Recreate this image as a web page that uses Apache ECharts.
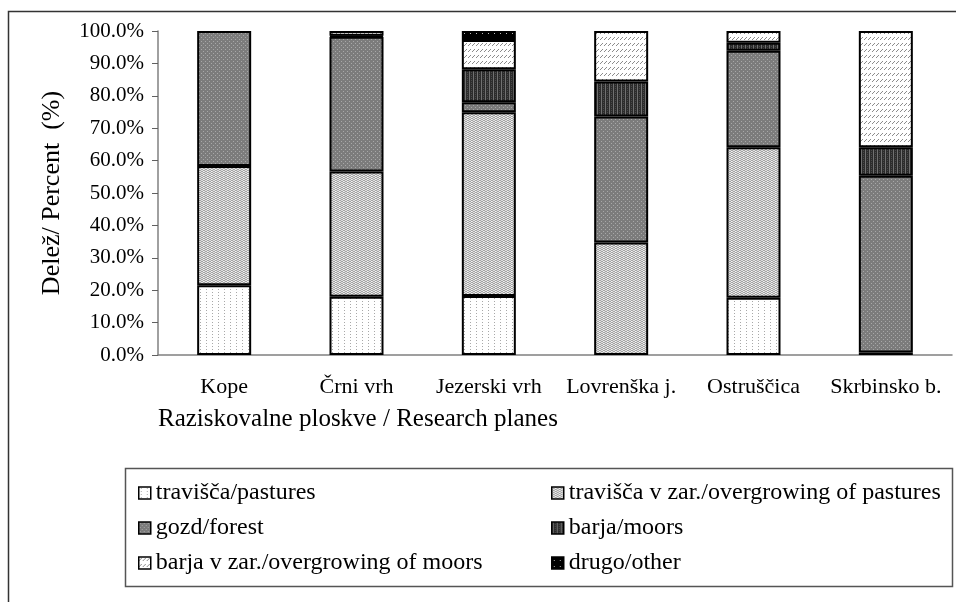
<!doctype html>
<html>
<head>
<meta charset="utf-8">
<title>Raziskovalne ploskve</title>
<script src="https://cdn.jsdelivr.net/npm/echarts@6/dist/echarts.min.js"></script>
<style>
  html, body { margin: 0; padding: 0; background: #fff; }
</style>
</head>
<body>
<div id="chart" style="width: 956px; height: 602px;"></div>
<script>
// data (percent of each plane)
var categories = ['Kope', 'Črni vrh', 'Jezerski vrh', 'Lovrenška j.', 'Ostruščica', 'Skrbinsko b.'];
var seriesNames = ['travišča/pastures', 'travišča v zar./overgrowing of pastures', 'gozd/forest',
                   'barja/moors', 'barja v zar./overgrowing of moors', 'drugo/other'];
var pastures     = [21.5, 18.0, 18.2, 0,    17.7, 0.8];
var overPastures = [36.8, 38.6, 56.7, 34.7, 46.4, 0];
var forest       = [41.7, 41.6, 3.1,  38.9, 29.8, 54.5];
var moors        = [0,    0.3,  10.2, 10.8, 2.5,  8.8];
var overMoors    = [0,    1.5,  9.0,  15.6, 3.6,  35.9];
var other        = [0,    0,    2.8,  0,    0,    0];
var yTicks = [0, 10, 20, 30, 40, 50, 60, 70, 80, 90, 100];

var FONT = '"Liberation Serif", "Times New Roman", serif';

// small hatch patterns like the old excel fills
function pattern(w, h, bg, draw) {
    var c = document.createElement('canvas');
    c.width = w; c.height = h;
    var ctx = c.getContext('2d');
    ctx.fillStyle = bg;
    ctx.fillRect(0, 0, w, h);
    draw(ctx);
    return { image: c, repeat: 'repeat' };
}
function px(ctx, col, pts) {
    ctx.fillStyle = col;
    for (var i = 0; i < pts.length; i++) ctx.fillRect(pts[i][0], pts[i][1], 1, 1);
}

var fills = [
    pattern(6, 3, '#ffffff', function (ctx) { px(ctx, '#a8a8a8', [[2, 1]]); }),
    pattern(4, 2, '#e0e0e0', function (ctx) { px(ctx, '#a4a4a4', [[0, 0], [2, 1], [1, 1], [3, 0]]); px(ctx, '#f4f4f4', [[3, 1]]); }),
    pattern(4, 4, '#7c7c7c', function (ctx) { px(ctx, '#a8a8a8', [[1, 1], [3, 3]]); }),
    pattern(4, 2, '#2c2c2c', function (ctx) { px(ctx, '#707070', [[1, 0], [1, 1]]); px(ctx, '#4a4a4a', [[3, 0]]); }),
    pattern(8, 6, '#ffffff', function (ctx) { px(ctx, '#8c8c8c', [[0, 3], [1, 2], [2, 1], [4, 3], [5, 2], [6, 1]]); }),
    pattern(6, 6, '#000000', function (ctx) { px(ctx, '#bbbbbb', [[2, 3]]); })
];

var values = [pastures, overPastures, forest, moors, overMoors, other];
var series = [];
for (var i = 0; i < values.length; i++) {
    series.push({
        name: seriesNames[i],
        type: 'bar',
        stack: 'total',
        barWidth: 54,
        // empty segments are left out so they draw no extra outline
        data: values[i].map(function (v) { return v === 0 ? '-' : v; }),
        itemStyle: { color: fills[i], borderColor: '#000', borderWidth: 2 }
    });
}

var legendCommon = {
    orient: 'vertical',
    top: 476,
    itemWidth: 12,
    itemHeight: 12,
    itemGap: 11,
    icon: 'rect',
    selectedMode: false,
    itemStyle: { borderColor: '#000', borderWidth: 1.5 },
    textStyle: { fontFamily: FONT, fontSize: 24, lineHeight: 24, color: '#000' }
};

var myChart = echarts.init(document.getElementById('chart'));
var option = {
    animation: false,
    backgroundColor: '#fff',
    textStyle: { fontFamily: FONT },
    grid: { left: 158, right: 4, top: 31, bottom: 247 },
    legend: [
        Object.assign({ left: 133, data: [seriesNames[0], seriesNames[2], seriesNames[4]] }, legendCommon),
        Object.assign({ left: 546, data: [seriesNames[1], seriesNames[3], seriesNames[5]] }, legendCommon)
    ],
    xAxis: {
        type: 'category',
        data: categories,
        axisLine: { lineStyle: { color: '#808080', width: 1.5 } },
        axisTick: { length: 6, lineStyle: { color: '#606060' } },
        axisLabel: { color: '#000', fontSize: 22, fontFamily: FONT, margin: 21, interval: 0 }
    },
    yAxis: {
        type: 'value',
        min: yTicks[0],
        max: yTicks[yTicks.length - 1],
        interval: yTicks[1] - yTicks[0],
        name: 'Delež/ Percent  (%)',
        nameLocation: 'middle',
        nameGap: 93,
        nameTextStyle: { color: '#000', fontSize: 26, fontFamily: FONT },
        axisLine: { show: true, lineStyle: { color: '#808080', width: 1.5 } },
        axisTick: { show: true, length: 6, lineStyle: { color: '#606060' } },
        splitLine: { show: false },
        axisLabel: {
            color: '#000', fontSize: 21, fontFamily: FONT, margin: 14,
            formatter: function (v) { return v.toFixed(1) + '%'; }
        }
    },
    graphic: [
        { type: 'text', left: 158, top: 407,
          style: { text: 'Raziskovalne ploskve / Research planes', font: '25px ' + FONT, fill: '#000' } },
        { type: 'rect', shape: { x: 125.5, y: 468.5, width: 827, height: 118 },
          style: { fill: 'none', stroke: '#555', lineWidth: 1.5 } },
        { type: 'polyline', shape: { points: [[8.5, 602], [8.5, 11.5], [956, 11.5]] },
          style: { fill: 'none', stroke: '#333', lineWidth: 1.5 } }
    ],
    series: series
};
myChart.setOption(option);
</script>
</body>
</html>
